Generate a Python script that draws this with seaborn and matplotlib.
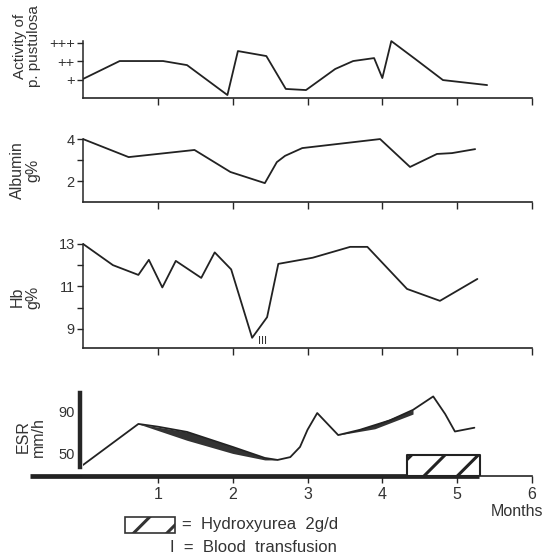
import matplotlib
matplotlib.use("Agg")
import matplotlib.pyplot as plt
from matplotlib.patches import Rectangle
import seaborn as sns
import pandas as pd

# months on the x axis
act_x = [0, 0.49, 1.07, 1.39, 1.93, 2.07, 2.45, 2.71, 2.98, 3.37, 3.61, 3.89, 4.0, 4.12, 4.44, 4.81, 5.40]
act_y = [1.03, 2.0, 2.0, 1.78, 0.16, 2.54, 2.27, 0.49, 0.43, 1.57, 2.0, 2.16, 1.08, 3.08, 2.11, 0.97, 0.70]

alb_x = [0, 0.61, 1.49, 1.97, 2.43, 2.59, 2.70, 2.93, 3.97, 4.37, 4.73, 4.93, 5.24]
alb_y = [4.0, 3.14, 3.48, 2.43, 1.9, 2.9, 3.2, 3.57, 4.0, 2.67, 3.29, 3.33, 3.52]

hb_x = [0, 0.40, 0.74, 0.88, 1.06, 1.24, 1.58, 1.76, 1.98, 2.26, 2.46, 2.61, 3.07, 3.57, 3.80, 4.33, 4.77, 5.27]
hb_y = [13.0, 12.0, 11.54, 12.25, 10.95, 12.2, 11.4, 12.6, 11.8, 8.58, 9.55, 12.06, 12.35, 12.86, 12.86, 10.88, 10.32, 11.35]

esr_x = [0, 0.74, 1.0, 1.39, 2.0, 2.43, 2.6, 2.77, 2.9, 3.0, 3.13, 3.41, 3.7, 4.1, 4.41, 4.68, 4.84, 4.97, 5.23]
esr_y = [39.5, 78.6, 76, 71, 56.7, 46.2, 44.3, 47, 56.7, 73, 89, 68, 73, 82, 92, 104.8, 88, 71.4, 75]

# thick ink bands under the ESR curve
band1_x = [0.74, 1.39, 2.0, 2.43, 2.6]
band1_lo = [78.6, 63, 50.5, 44.3, 44.3]
band1_hi = [78.6, 71, 56.7, 46.2, 44.3]
band2_x = [3.41, 3.9, 4.41]
band2_lo = [68, 74, 88]
band2_hi = [68, 78, 92]

hu_start, hu_end = 4.33, 5.31   # hydroxyurea period
hu_level = 49
transfusion_x, transfusion_y = 2.34, 8.45

months = [1, 2, 3, 4, 5, 6]

sns.set_style("ticks")
plt.rcParams["font.family"] = ["Liberation Sans", "DejaVu Sans"]
plt.rcParams["hatch.linewidth"] = 2.2

W = 556
fig = plt.figure(figsize=(5.56, 5.56), dpi=100)


def px_axes(left, top, right, bottom):
    return fig.add_axes([left / W, 1 - bottom / W, (right - left) / W, (bottom - top) / W])


def style(ax, ylim, yticks, ylabels, top_tick, show_x=False):
    ax.set_xlim(0, 6)
    ax.set_ylim(*ylim)
    ax.set_xticks(months)
    ax.set_xticklabels([str(m) for m in months] if show_x else [])
    ax.set_yticks(yticks)
    ax.set_yticklabels(ylabels)
    for s in ["top", "right"]:
        ax.spines[s].set_visible(False)
    ax.spines["left"].set_bounds(ylim[0], top_tick)
    ax.spines["left"].set_linewidth(1.1)
    ax.spines["bottom"].set_linewidth(1.2)
    ax.tick_params(axis="x", direction="out", length=5, width=1, labelsize=11.5, pad=3, labelcolor="#333333")
    ax.tick_params(axis="y", direction="out", length=4, width=1, labelsize=10.5, pad=2, labelcolor="#333333")
    ax.set_xlabel("")
    ax.set_ylabel("")
    ax.patch.set_alpha(0)


line_kw = dict(color="#222222", linewidth=1.3)
lab_kw = dict(rotation=90, ha="center", va="center", fontsize=11.5, linespacing=1.0, color="#333333")

# Panel 1: activity
ax1 = px_axes(83, 30, 532, 98)
sns.lineplot(data=pd.DataFrame({"m": act_x, "v": act_y}), x="m", y="v", ax=ax1, **line_kw)
style(ax1, (0, 3.68), [1, 2, 3], ["+", "++", "+++"], 3.1)
fig.text(27 / W, 1 - 46 / W, "Activity of\np. pustulosa", **dict(lab_kw, fontsize=11))

# Panel 2: albumin
ax2 = px_axes(83, 125, 532, 202)
sns.lineplot(data=pd.DataFrame({"m": alb_x, "v": alb_y}), x="m", y="v", ax=ax2, **line_kw)
style(ax2, (1.0, 4.67), [2, 3, 4], ["2", "", "4"], 4.0)
fig.text(25 / W, 1 - 170 / W, "Albumin\ng%", **lab_kw)

# Panel 3: Hb
ax3 = px_axes(83, 232, 532, 348)
sns.lineplot(data=pd.DataFrame({"m": hb_x, "v": hb_y}), x="m", y="v", ax=ax3, **line_kw)
style(ax3, (8.1, 13.56), [9, 10, 11, 12, 13], ["9", "", "11", "", "13"], 13.0)
ax3.text(transfusion_x, transfusion_y, "III", fontsize=8, ha="left", va="center", color="#333333")
fig.text(25 / W, 1 - 297 / W, "Hb\ng%", **lab_kw)

# Panel 4: ESR
ax4 = px_axes(83, 385, 532, 476)
ax4.fill_between(band1_x, band1_lo, band1_hi, color="#333333", linewidth=0)
ax4.fill_between(band2_x, band2_lo, band2_hi, color="#333333", linewidth=0)
sns.lineplot(data=pd.DataFrame({"m": esr_x, "v": esr_y}), x="m", y="v", ax=ax4, **line_kw)
ax4.fill_between([hu_start, hu_end], 29, hu_level, facecolor="white", edgecolor="#222222",
                 hatch="/", linewidth=1.5, zorder=3)
style(ax4, (29, 115.7), [50, 90], ["50", "90"], 108, show_x=True)
ax4.spines["left"].set_bounds(38, 108)
ax4.spines["left"].set_linewidth(3.2)
ax4.spines["left"].set_position(("outward", 2))
ax4.tick_params(axis="y", length=0, pad=4)
# thick base line, extending left of the origin
ax4.plot([-0.118, 0.883], [0, 0], transform=ax4.transAxes, clip_on=False, color="#222222",
         linewidth=3.4, solid_capstyle="butt")
fig.text(31 / W, 1 - 437 / W, "ESR\nmm/h", **lab_kw)
fig.text(517 / W, 1 - 511 / W, "Months", ha="center", va="center", fontsize=11.5, color="#333333")

# legend
fig.patches.append(Rectangle((125 / W, 1 - 533 / W), 50 / W, 16 / W, transform=fig.transFigure,
                             facecolor="white", edgecolor="#333333", hatch="/", linewidth=1.2))
fig.text(182 / W, 1 - 525 / W, "=  Hydroxyurea  2g/d", ha="left", va="center", fontsize=12, color="#333333")
fig.text(170 / W, 1 - 548 / W, "I  =  Blood  transfusion", ha="left", va="center", fontsize=12, color="#333333")

fig.savefig("out.png", dpi=100)
